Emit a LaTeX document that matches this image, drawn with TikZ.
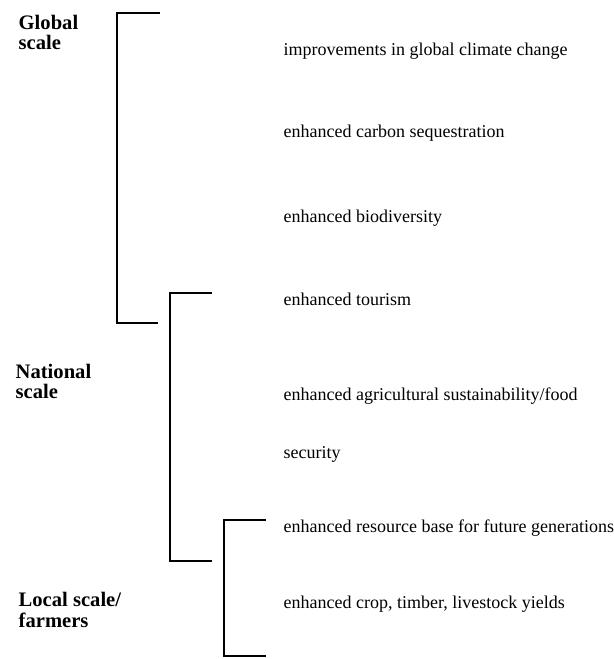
\documentclass[tikz,border=0pt]{standalone}
\usepackage{fontspec}
\setmainfont{Liberation Serif}
\usepackage{tikz}

\begin{document}
\begin{tikzpicture}
    [x=0.5pt,y=-0.5pt,line width=0.7pt,
     benefit/.style={anchor=base west,inner sep=0pt,font=\fontsize{9}{11}\selectfont},
     scalelabel/.style={anchor=north west,inner sep=0pt,align=left,font=\fontsize{10.3}{10}\selectfont\bfseries}]
    \useasboundingbox (0,0) rectangle (614,659);
    % scale labels
    \draw (18,15) node(GLOBAL) [scalelabel] {Global\\scale};
    \draw (15,364) node(NATIONAL) [scalelabel] {National\\scale};
    \draw (18,592) node(LOCAL) [scalelabel] {Local scale/\\farmers};
    % brackets
    \coordinate (GLOBALtop) at (160,13);
    \coordinate (GLOBALbot) at (158,323);
    \coordinate (NATIONALtop) at (212,293);
    \coordinate (NATIONALbot) at (212,561);
    \coordinate (LOCALtop) at (266,520);
    \coordinate (LOCALbot) at (266,656);
    \draw (GLOBALtop) -- ++(-43,0) |- (GLOBALbot);
    \draw (NATIONALtop) -- ++(-42,0) |- (NATIONALbot);
    \draw (LOCALtop) -- ++(-42,0) |- (LOCALbot);
    % benefits
    \draw (283,55) node(climate) [benefit] {improvements in global climate change};
    \draw (283,137) node(carbon) [benefit] {enhanced carbon sequestration};
    \draw (283,222) node(biodiv) [benefit] {enhanced biodiversity};
    \draw (283,305) node(tourism) [benefit] {enhanced tourism};
    \draw (283,400) node(agric) [benefit] {enhanced agricultural sustainability/food};
    \draw (283,458) node(security) [benefit] {security};
    \draw (283,532) node(resource) [benefit] {enhanced resource base for future generations};
    \draw (283,608) node(yields) [benefit] {enhanced crop, timber, livestock yields};
\end{tikzpicture}
\end{document}
